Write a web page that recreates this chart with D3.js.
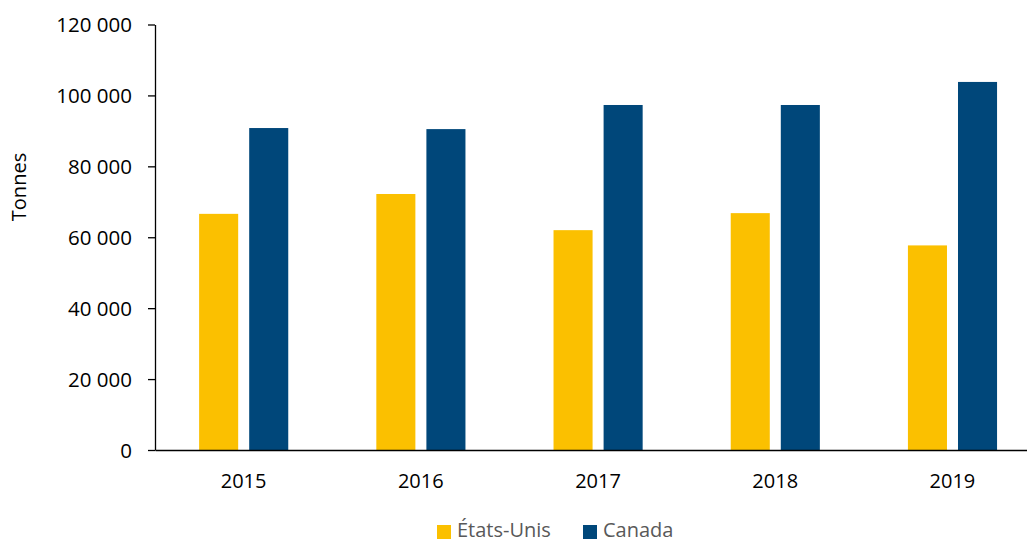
<!DOCTYPE html>
<html><head><meta charset="utf-8">
<script src="https://cdn.jsdelivr.net/npm/d3@7"></script>
<style>body{margin:0;background:#fff;} text{font-family:"Open Sans","Noto Sans",sans-serif;}</style>
</head><body>
<svg id="c" width="1027" height="542"></svg>
<script>
const categories = ["2015","2016","2017","2018","2019"];
const seriesNames = ["États-Unis","Canada"];
const etatsUnis = [66600, 72200, 62000, 66800, 57700];
const canada = [90800, 90500, 97300, 97300, 103800];
const yTicks = [0,20000,40000,60000,80000,100000,120000];
const colors = ["#FBC000","#00477A"];

const svg = d3.select("#c");
const x = d3.scaleBand().domain(categories).range([155,1041]);
const y = d3.scaleLinear().domain([0,120000]).range([450,24.5]);
const bw = x.bandwidth();
const sub = d3.scaleBand().domain(seriesNames).range([bw*0.249, bw*0.752]).paddingInner(0.22).paddingOuter(0);

const fmt = v => d3.format(",")(v).replace(/,/g," ");

const data = categories.map((c,i)=>({cat:c, vals:[etatsUnis[i], canada[i]]}));
const g = svg.append("g");
data.forEach(d=>{
  d.vals.forEach((v,j)=>{
    g.append("rect")
      .attr("x", x(d.cat)+sub(seriesNames[j]))
      .attr("width", sub.bandwidth())
      .attr("y", y(v))
      .attr("height", y(0)-y(v))
      .attr("fill", colors[j]);
  });
});

const ya = svg.append("g").attr("transform","translate(155,0)")
  .call(d3.axisLeft(y).tickValues(yTicks).tickFormat(fmt).tickSize(7).tickSizeOuter(0));
ya.select(".domain").attr("stroke","#000").attr("stroke-width",1.3);
ya.selectAll(".tick line").attr("stroke","#000").attr("stroke-width",1.3);
ya.selectAll(".tick text").attr("font-size",20.5).attr("fill","#000").attr("x",-23).attr("dy","0.36em");

const xa = svg.append("g").attr("transform","translate(0,450)")
  .call(d3.axisBottom(x).tickSize(0).tickSizeOuter(0));
xa.select(".domain").attr("stroke","#000").attr("stroke-width",1.3);
xa.selectAll(".tick text").attr("font-size",20).attr("fill","#000").attr("dy","0").attr("y",38);

svg.append("text").attr("transform","translate(26,187) rotate(-90)")
  .attr("text-anchor","middle").attr("font-size",20).attr("fill","#000").text("Tonnes");

const leg = svg.append("g");
const legX = [437, 583];
seriesNames.forEach((n,j)=>{
  leg.append("rect").attr("x",legX[j]).attr("y",525).attr("width",14).attr("height",14).attr("fill",colors[j]);
  leg.append("text").attr("x",legX[j]+20).attr("y",537).attr("font-size",20).attr("fill","#595959").text(n);
});
</script>
</body></html>
